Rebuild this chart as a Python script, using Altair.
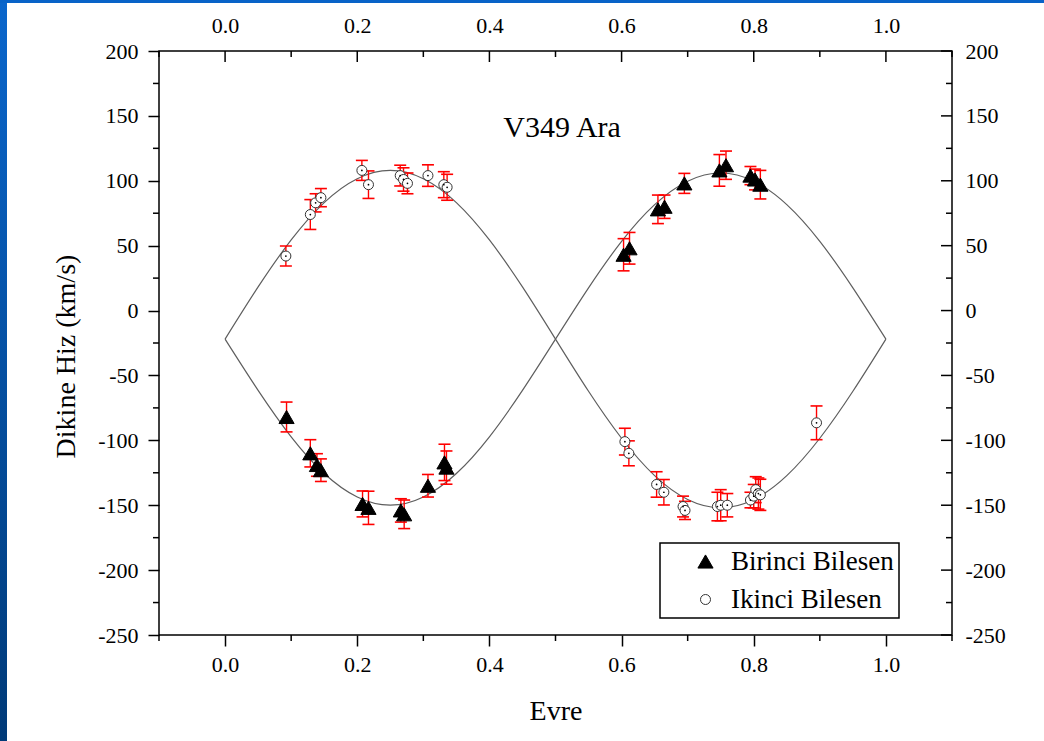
import altair as alt
import pandas as pd

# Primary component (Birinci Bilesen): phase, radial velocity (km/s), error
prim_phase = [0.093, 0.129, 0.139, 0.145, 0.208, 0.217, 0.266, 0.271, 0.307, 0.332, 0.335,
              0.603, 0.612, 0.655, 0.665, 0.695, 0.748, 0.758, 0.795, 0.802, 0.810]
prim_rv = [-82, -110, -119, -123, -149, -152, -154, -157, -135, -117, -121,
           43, 48, 78, 80, 98, 108, 112, 104, 101, 97]
prim_err = [11.5, 10.5, 8.7, 8.7, 10, 12.8, 9, 11, 8.7, 14, 12.8,
            12.4, 12.2, 11, 9, 7.7, 12.2, 10.9, 7, 8, 11]

# Secondary component (Ikinci Bilesen)
sec_phase = [0.092, 0.129, 0.137, 0.145, 0.207, 0.217, 0.265, 0.270, 0.276, 0.307, 0.331, 0.336,
             0.605, 0.611, 0.653, 0.664, 0.693, 0.696, 0.745, 0.750, 0.760,
             0.795, 0.800, 0.803, 0.807, 0.810, 0.895]
sec_rv = [42, 74, 83, 87, 108, 97, 104, 101, 98, 104, 97, 95,
          -101, -110, -134, -140, -151, -154, -151, -150, -150,
          -146, -143, -138, -141, -142, -86.5]
sec_err = [7.7, 11.5, 7, 7, 7.7, 10.6, 8, 9, 8, 8.3, 10, 10,
           10.3, 9.6, 9.8, 9.8, 8, 7, 11, 12, 9,
           6, 9, 10, 12, 12, 13]

# Orbit solution curves, sampled every 0.05 in phase
curve_phase = [0.00, 0.05, 0.10, 0.15, 0.20, 0.25, 0.30, 0.35, 0.40, 0.45, 0.50,
               0.55, 0.60, 0.65, 0.70, 0.75, 0.80, 0.85, 0.90, 0.95, 1.00]
curve_prim = [-22, -61.5, -97.3, -125.6, -143.7, -150, -143.7, -125.6, -97.3, -61.5, -22,
              17.5, 53.3, 81.6, 99.7, 106, 99.7, 81.6, 53.3, 17.5, -22]
curve_sec = [-22, 18.2, 54.4, 83.2, 101.6, 108, 101.6, 83.2, 54.4, 18.2, -22,
             -62.2, -98.4, -127.2, -145.6, -152, -145.6, -127.2, -98.4, -62.2, -22]

major_x = [0.0, 0.2, 0.4, 0.6, 0.8, 1.0]
minor_x = [-0.1, 0.1, 0.3, 0.5, 0.7, 0.9, 1.1]
major_y = [-250, -200, -150, -100, -50, 0, 50, 100, 150, 200]
minor_y = [-225, -175, -125, -75, -25, 25, 75, 125, 175]

series_names = ["Birinci Bilesen", "Ikinci Bilesen"]
chart_title = "V349 Ara"

W, H = 793, 584
PAD = {"left": 159, "top": 51, "right": 92, "bottom": 106}
FONT = "Liberation Serif"

obs = pd.concat([
    pd.DataFrame({"phase": prim_phase, "rv": prim_rv, "err": prim_err, "series": series_names[0]}),
    pd.DataFrame({"phase": sec_phase, "rv": sec_rv, "err": sec_err, "series": series_names[1]}),
], ignore_index=True)
obs["lo"] = obs["rv"] - obs["err"]
obs["hi"] = obs["rv"] + obs["err"]

curves = pd.concat([
    pd.DataFrame({"phase": curve_phase, "rv": curve_prim, "series": series_names[0]}),
    pd.DataFrame({"phase": curve_phase, "rv": curve_sec, "series": series_names[1]}),
], ignore_index=True)

xs = alt.Scale(domain=[-0.1, 1.1], nice=False, zero=False)
ys = alt.Scale(domain=[-250, 200], nice=False, zero=False)

label_style = dict(labelFont=FONT, labelFontSize=22, labelColor="black",
                   labelFlush=False, labelOverlap=False, grid=False, domain=False)
title_style = dict(titleFont=FONT, titleFontSize=28, titleFontWeight="normal", titleColor="black")

bottom_axis = alt.Axis(orient="bottom", values=major_x, labelExpr="format(datum.value, '.1f')",
                       tickSize=11, tickWidth=1.5, tickColor="black", labelPadding=8,
                       title="Evre", titleY=62, titleX=W / 2, titleAlign="center",
                       titleBaseline="top", **label_style, **title_style)
left_axis = alt.Axis(orient="left", values=major_y, labelExpr="'' + datum.value",
                     tickSize=11, tickWidth=1.5, tickColor="black", labelPadding=10,
                     title="Dikine Hiz (km/s)", titleX=-93, titleY=305, titleAngle=270,
                     titleAlign="center", titleBaseline="middle", **label_style, **title_style)
top_axis = alt.Axis(orient="top", values=major_x, labelExpr="format(datum.value, '.1f')",
                    ticks=False, tickSize=0, labelPadding=14, title=None, **label_style)
right_axis = alt.Axis(orient="right", values=major_y, labelExpr="'' + datum.value",
                      ticks=False, tickSize=0, labelPadding=13, title=None, **label_style)

one = pd.DataFrame({"k": [0]})

# Slide frame: blue strips along the left and top edges
left_strip = alt.Chart(one).mark_rect(
    fill=alt.Gradient(gradient="linear",
                      stops=[alt.GradientStop(color="#0a66cc", offset=0),
                             alt.GradientStop(color="#003a78", offset=1)],
                      x1=0, x2=0, y1=0, y2=1)
).encode(x=alt.value(-PAD["left"]), x2=alt.value(-PAD["left"] + 7),
         y=alt.value(-PAD["top"]), y2=alt.value(H + PAD["bottom"]))
top_strip = alt.Chart(one).mark_rect(fill="#0863c8").encode(
    x=alt.value(-PAD["left"]), x2=alt.value(W + PAD["right"]),
    y=alt.value(-PAD["top"]), y2=alt.value(-PAD["top"] + 3))

tick_rule = dict(color="black", strokeWidth=1.5)
mx = pd.DataFrame({"v": major_x})
nx = pd.DataFrame({"v": minor_x})
my = pd.DataFrame({"v": major_y})
ny = pd.DataFrame({"v": minor_y})

bottom_minor = alt.Chart(nx).mark_rule(**tick_rule).encode(
    x=alt.X("v:Q", scale=xs, axis=None), y=alt.value(H), y2=alt.value(H + 6))
left_minor = alt.Chart(ny).mark_rule(**tick_rule).encode(
    y=alt.Y("v:Q", scale=ys, axis=None), x=alt.value(0), x2=alt.value(-6))
top_major = alt.Chart(mx).mark_rule(**tick_rule).encode(
    x=alt.X("v:Q", scale=xs, axis=top_axis), y=alt.value(0), y2=alt.value(11))
top_minor = alt.Chart(nx).mark_rule(**tick_rule).encode(
    x=alt.X("v:Q", scale=xs, axis=None), y=alt.value(0), y2=alt.value(6))
right_major = alt.Chart(my).mark_rule(**tick_rule).encode(
    y=alt.Y("v:Q", scale=ys, axis=right_axis), x=alt.value(W), x2=alt.value(W - 11))
right_minor = alt.Chart(ny).mark_rule(**tick_rule).encode(
    y=alt.Y("v:Q", scale=ys, axis=None), x=alt.value(W), x2=alt.value(W - 6))

curve_lines = alt.Chart(curves).mark_line(color="#5e5e5e", strokeWidth=1.2, interpolate="natural").encode(
    x=alt.X("phase:Q", scale=xs, axis=None),
    y=alt.Y("rv:Q", scale=ys, axis=None),
    detail="series:N")

err_bars = alt.Chart(obs).mark_rule(color="#ff0000", strokeWidth=1.4).encode(
    x=alt.X("phase:Q", scale=xs, axis=None),
    y=alt.Y("lo:Q", scale=ys, axis=None),
    y2="hi:Q")
cap_lo = alt.Chart(obs).mark_tick(color="#ff0000", orient="horizontal", size=12, thickness=1.6, opacity=1).encode(
    x=alt.X("phase:Q", scale=xs, axis=None),
    y=alt.Y("lo:Q", scale=ys, axis=None))
cap_hi = alt.Chart(obs).mark_tick(color="#ff0000", orient="horizontal", size=12, thickness=1.6, opacity=1).encode(
    x=alt.X("phase:Q", scale=xs, axis=None),
    y=alt.Y("hi:Q", scale=ys, axis=None))

legend = alt.Legend(title=None, labelLimit=400)
markers = alt.Chart(obs).mark_point(opacity=1, strokeWidth=1).encode(
    x=alt.X("phase:Q", scale=xs, axis=bottom_axis),
    y=alt.Y("rv:Q", scale=ys, axis=left_axis),
    shape=alt.Shape("series:N", scale=alt.Scale(domain=series_names, range=["triangle-up", "circle"]), legend=legend),
    fill=alt.Fill("series:N", scale=alt.Scale(domain=series_names, range=["black", "white"]), legend=legend),
    stroke=alt.Stroke("series:N", scale=alt.Scale(domain=series_names, range=["black", "#333333"]), legend=legend),
    size=alt.Size("series:N", scale=alt.Scale(domain=series_names, range=[230, 100], padding=0), legend=legend),
)

sec_only = obs[obs["series"] == series_names[1]]
center_dots = alt.Chart(sec_only).mark_circle(size=3, color="black", opacity=1).encode(
    x=alt.X("phase:Q", scale=xs, axis=None),
    y=alt.Y("rv:Q", scale=ys, axis=None))

title_df = pd.DataFrame({"phase": [0.51], "rv": [141], "label": [chart_title]})
title_text = alt.Chart(title_df).mark_text(font=FONT, fontSize=30, color="black",
                                           align="center", baseline="middle").encode(
    x=alt.X("phase:Q", scale=xs, axis=None),
    y=alt.Y("rv:Q", scale=ys, axis=None),
    text="label:N")

chart = alt.layer(
    left_strip, top_strip,
    bottom_minor, left_minor, top_major, top_minor, right_major, right_minor,
    curve_lines, err_bars, cap_lo, cap_hi, markers, center_dots, title_text,
).resolve_axis(
    x="independent", y="independent"
).properties(
    width=W, height=H, padding=PAD,
    autosize=alt.AutoSizeParams(type="none"),
    background="white",
).configure_view(
    stroke="black", strokeWidth=1.5, fill="white"
).configure_legend(
    orient="none", legendX=501, legendY=492,
    fillColor="white", strokeColor="black", strokeWidth=1.5,
    padding=5, labelFont=FONT, labelFontSize=27, labelColor="black", labelLimit=400,
    rowPadding=10, symbolOffset=27, labelOffset=12, symbolStrokeWidth=1,
)

chart.save("out.html", embed_options={"renderer": "svg", "actions": False})
